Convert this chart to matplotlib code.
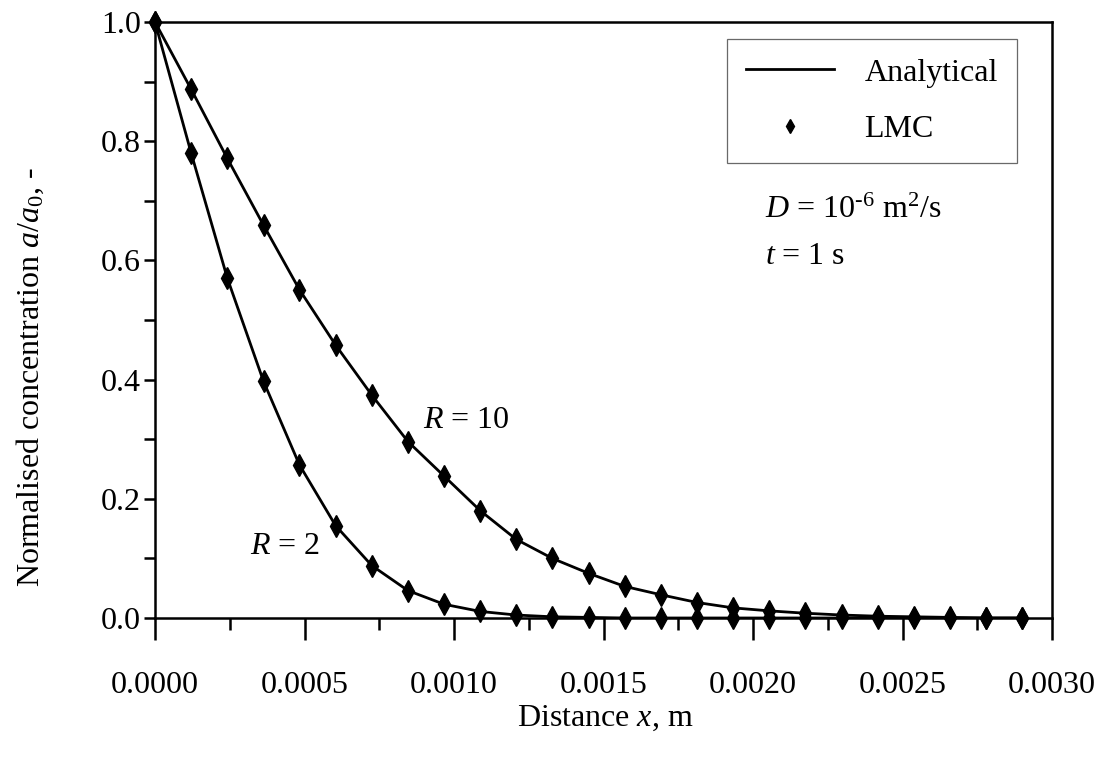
import matplotlib
matplotlib.use("Agg")
import matplotlib.pyplot as plt
from matplotlib.lines import Line2D
from matplotlib.ticker import MultipleLocator, FormatStrFormatter

# Distance from the inlet, m
distance = [0.0, 0.000121, 0.000242, 0.000363, 0.000483, 0.000604, 0.000725,
            0.000846, 0.000967, 0.001088, 0.001208, 0.001329, 0.001450,
            0.001571, 0.001692, 0.001813, 0.001933, 0.002054, 0.002175,
            0.002296, 0.002417, 0.002538, 0.002658, 0.002779, 0.002900]

# Normalised concentration a/a0 for the two retardation factors
conc_r10 = [1.000, 0.887, 0.771, 0.659, 0.551, 0.458, 0.374, 0.296, 0.238,
            0.180, 0.132, 0.100, 0.075, 0.053, 0.039, 0.026, 0.017, 0.012,
            0.008, 0.005, 0.003, 0.002, 0.001, 0.000, 0.000]
conc_r2 = [1.000, 0.780, 0.570, 0.397, 0.257, 0.155, 0.088, 0.046, 0.023,
           0.011, 0.005, 0.002, 0.001, 0.000, 0.000, 0.000, 0.000, 0.000,
           0.000, 0.000, 0.000, 0.000, 0.000, 0.000, 0.000]

x_ticks = [0.0, 0.0005, 0.0010, 0.0015, 0.0020, 0.0025, 0.0030]
y_ticks = [0.0, 0.2, 0.4, 0.6, 0.8, 1.0]

plt.rcParams["font.family"] = ["Liberation Serif", "DejaVu Serif"]
plt.rcParams["mathtext.fontset"] = "custom"
plt.rcParams["mathtext.rm"] = "Liberation Serif"
plt.rcParams["mathtext.it"] = "Liberation Serif:italic"
plt.rcParams["mathtext.bf"] = "Liberation Serif:bold"

FS = 23

fig = plt.figure(figsize=(11.04, 7.58), dpi=100)
ax = fig.add_axes([0.1404, 0.1847, 0.8125, 0.7863])

for conc in (conc_r10, conc_r2):
    ax.plot(distance, conc, color="black", lw=2.0, zorder=2)
    ax.plot(distance, conc, linestyle="none", marker="d", ms=11,
            color="black", zorder=3, clip_on=False)

ax.set_xlim(0, 0.003)
ax.set_ylim(0, 1.0)
ax.set_xticks(x_ticks)
ax.set_yticks(y_ticks)
ax.xaxis.set_major_formatter(FormatStrFormatter("%.4f"))
ax.yaxis.set_major_formatter(FormatStrFormatter("%.1f"))
ax.xaxis.set_minor_locator(MultipleLocator(0.00025))
ax.yaxis.set_minor_locator(MultipleLocator(0.1))

ax.tick_params(axis="x", which="major", direction="out", length=16, width=1.8,
               pad=22, labelsize=FS)
ax.tick_params(axis="x", which="minor", direction="out", length=8.5, width=1.8)
ax.tick_params(axis="y", which="both", direction="out", length=8, width=1.8,
               pad=2, labelsize=FS)
for sp in ax.spines.values():
    sp.set_linewidth(1.8)

ax.set_xlabel("Distance $x$, m", fontsize=FS)
ax.set_ylabel("Normalised concentration $a$/$a_0$, -", fontsize=FS)
ax.xaxis.label.set_va("center")
ax.yaxis.label.set_va("center")
ax.xaxis.set_label_coords(0.502, -0.168)
ax.yaxis.set_label_coords(-0.139, 0.404)

ax.text(0.000896, 0.332, "$R$ = 10", fontsize=FS, ha="left", va="center")
ax.text(0.000317, 0.120, "$R$ = 2", fontsize=FS, ha="left", va="center")
ax.text(0.00204, 0.684, r"$D$ = 10$^{\text{-6}}$ m$^2$/s", fontsize=FS,
        ha="left", va="center")
ax.text(0.00204, 0.606, "$t$ = 1 s", fontsize=FS, ha="left", va="center")

handles = [Line2D([], [], color="black", lw=2.0),
           Line2D([], [], color="black", linestyle="none", marker="d", ms=7)]
leg = ax.legend(handles, ["Analytical", "LMC"], fontsize=FS,
                loc="upper right", bbox_to_anchor=(1017 / 1104, 1 - 39 / 758),
                bbox_transform=fig.transFigure, fancybox=False, frameon=True,
                handlelength=2.75, handletextpad=0.95, labelspacing=0.85,
                borderpad=0.6, borderaxespad=0)
leg.get_frame().set_edgecolor("#444444")
leg.get_frame().set_linewidth(0.9)

fig.savefig("out.png", dpi=100)
